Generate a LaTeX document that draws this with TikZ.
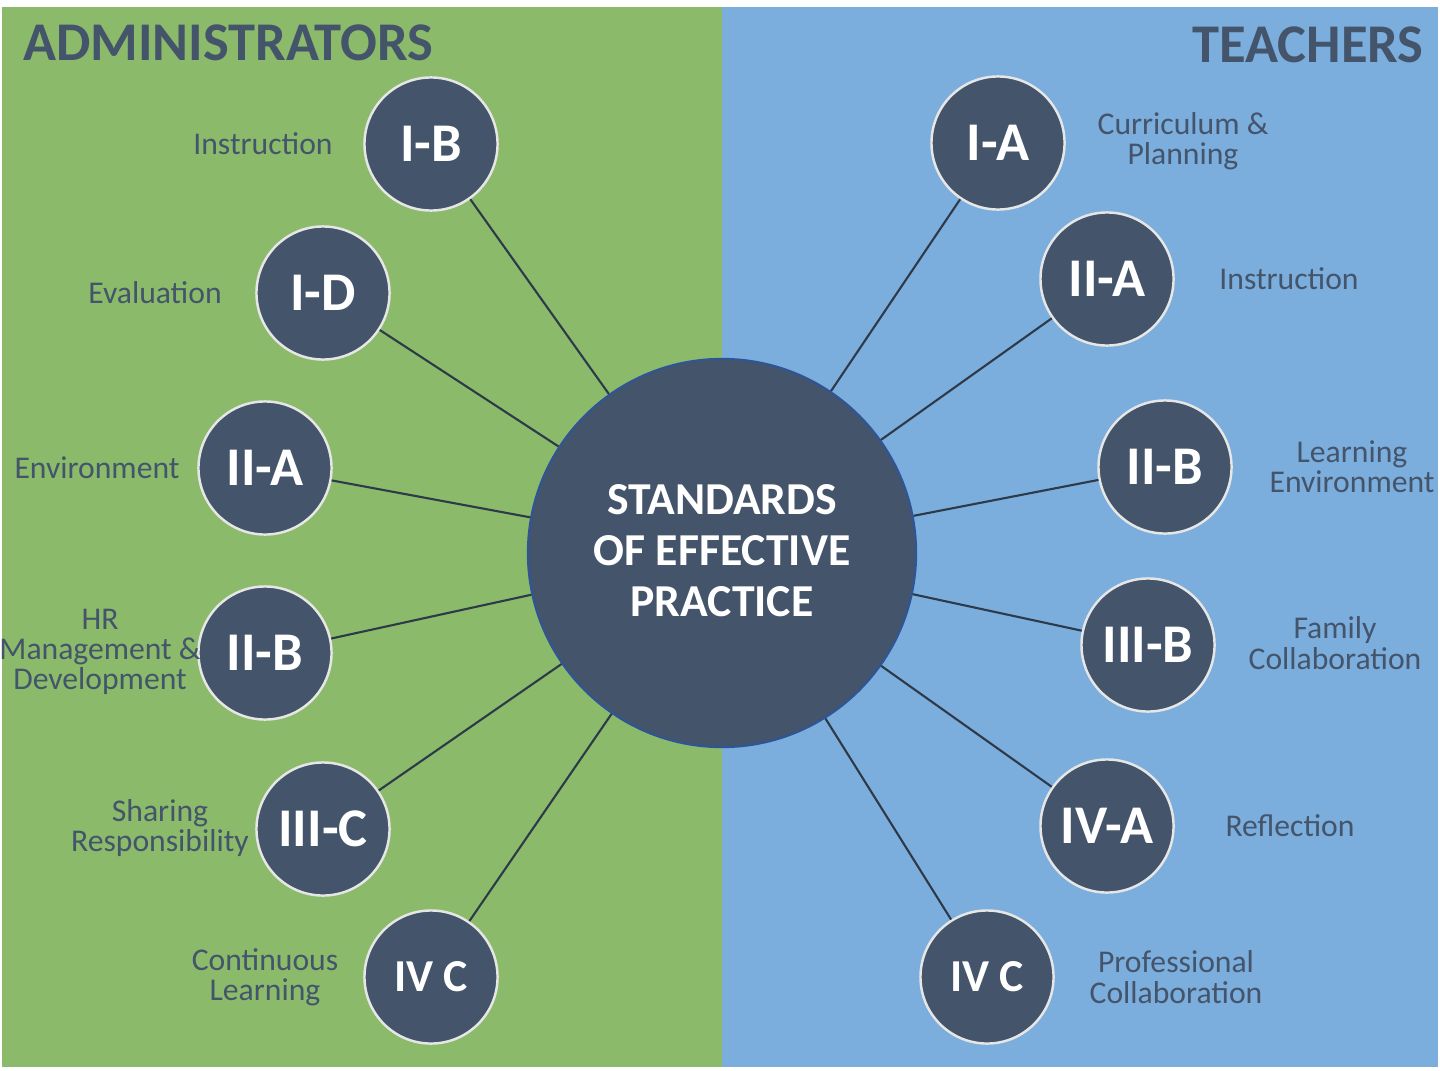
\documentclass[tikz,border=0pt]{standalone}
\usepackage{fontspec}
\setmainfont{Carlito}
\definecolor{admgreen}{HTML}{8BBB6A}
\definecolor{teachblue}{HTML}{7BAEDD}
\definecolor{slate}{HTML}{44546A}
\definecolor{rimgrey}{HTML}{E6E6E6}
\definecolor{spokecol}{HTML}{2E3A4A}
\definecolor{coreline}{HTML}{2F5597}
\tikzset{
  stdcirc/.style={circle,fill=slate,draw=rimgrey,line width=0.7pt,minimum size=1.33cm,inner sep=0pt,
    text=white,font=\bfseries\fontsize{15.5}{15.5}\selectfont},
  lbl/.style={text=slate,align=center,inner sep=0pt,font=\fontsize{9}{8.6}\selectfont},
  spoke/.style={draw=spokecol,line width=0.6pt}
}
\begin{document}
\begin{tikzpicture}[x=0.01cm,y=-0.01cm]
            \useasboundingbox (0,0) rectangle (1440,1070);
            \fill[admgreen] (2,7) rectangle (722,1067);
            \fill[teachblue] (722,7) rectangle (1438,1067);
            % titles
            \node[text=slate,font=\bfseries\fontsize{15.5}{15.5}\selectfont] (admtitle) at (228,43) {ADMINISTRATORS};
            \node[text=slate,font=\bfseries\fontsize{15.5}{15.5}\selectfont] (teachtitle) at (1308,45) {TEACHERS};
            % centre
            \node[circle,fill=slate,draw=coreline,line width=0.6pt,minimum size=3.88cm,inner sep=0pt] (core) at (722,553) {};
            \node[text=white,align=center,font=\bfseries\fontsize{13}{14.5}\selectfont] (coretext) at (722,551) {STANDARDS\\OF EFFECTIVE\\PRACTICE};
            % administrators
            \node[stdcirc] (aIB) at (431,144) {I-B};
            \node[stdcirc] (aID) at (323,293) {I-D};
            \node[stdcirc] (aIIA) at (265,468) {II-A};
            \node[stdcirc] (aIIB) at (265,653) {II-B};
            \node[stdcirc] (aIIIC) at (323,829) {III-C};
            \node[stdcirc,font=\bfseries\fontsize{13}{13}\selectfont] (aIVC) at (431,977) {IV C};
            % teachers
            \node[stdcirc] (tIA) at (998,143) {I-A};
            \node[stdcirc] (tIIA) at (1107,279) {II-A};
            \node[stdcirc] (tIIB) at (1165,467) {II-B};
            \node[stdcirc] (tIIIB) at (1148,645) {III-B};
            \node[stdcirc] (tIVA) at (1107,826) {IV-A};
            \node[stdcirc,font=\bfseries\fontsize{13}{13}\selectfont] (tIVC) at (987,977) {IV C};
            \foreach \s in {aIB,aID,aIIA,aIIB,aIIIC,aIVC,tIA,tIIA,tIIB,tIIIB,tIVA,tIVC}
                \draw[spoke] (core) -- (\s);
            % labels
            \node[lbl] (lIB) at (263,144) {Instruction};
            \node[lbl] (lID) at (155,293) {Evaluation};
            \node[lbl] (lIIA) at (97,468) {Environment};
            \node[lbl] (lIIB) at (100,652) {HR\\Management \&\\Development};
            \node[lbl] (lIIIC) at (160,828) {Sharing\\Responsibility};
            \node[lbl] (lIVC) at (265,977) {Continuous\\Learning};
            \node[lbl] (rIA) at (1183,141) {Curriculum \&\\Planning};
            \node[lbl] (rIIA) at (1289,279) {Instruction};
            \node[lbl] (rIIB) at (1352,467) {Learning\\Environment};
            \node[lbl] (rIIIB) at (1335,643) {Family\\Collaboration};
            \node[lbl] (rIVA) at (1290,826) {Reflection};
            \node[lbl] (rIVC) at (1176,977) {Professional\\Collaboration};
            %\draw[step=50,gray,very thin] (0,0) grid (1440,1070);
\end{tikzpicture}
\end{document}
